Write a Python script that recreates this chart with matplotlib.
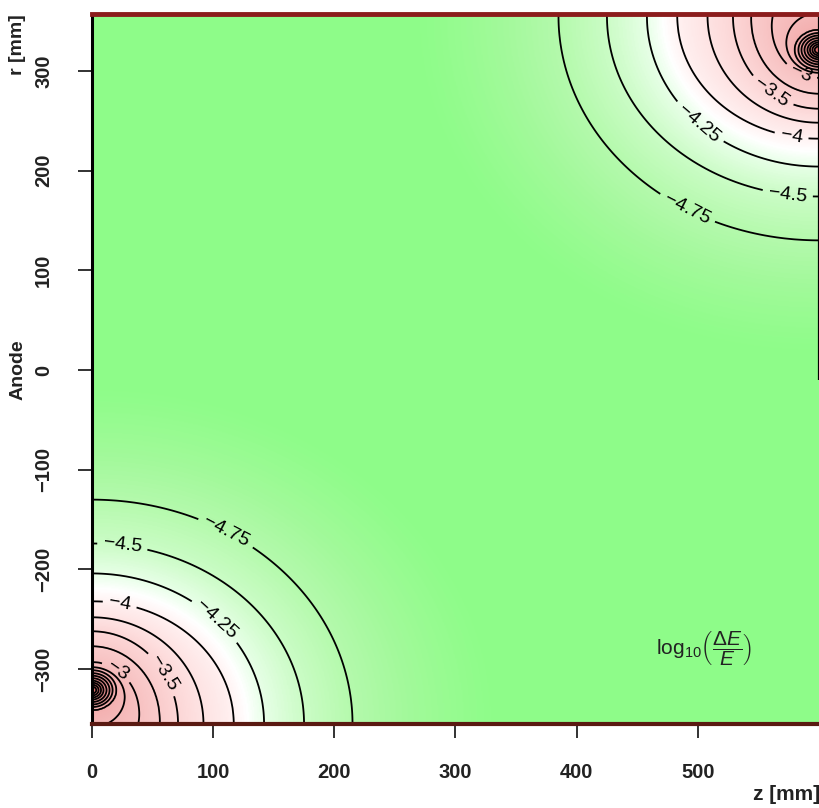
import numpy as np
import matplotlib
matplotlib.use("Agg")
import matplotlib.pyplot as plt
from matplotlib.colors import LinearSegmentedColormap

# Contour levels of log10(dE/E). Each level is a closed ellipse in the frame of
# the lower-left source: centre CENTER_R (mm, on the z = 0 wall), semi-axis
# SEMI_A along z and SEMI_B along r.
LEVELS = [-5.25, -5.0, -4.75, -4.5, -4.25, -4.0, -3.75, -3.5, -3.25, -3.0,
          -2.75, -2.5, -2.25, -2.0, -1.75, -1.5, -1.25, -1.0, -0.75]
CENTER_R = [-355, -355, -355, -355, -355, -355, -355, -355, -352, -345,
            -328, -321, -321, -321, -321, -321, -321, -321, -321]
SEMI_A = [330, 268, 215, 175, 142, 117, 92, 71, 56, 39,
          27, 20, 17, 14.5, 12, 9.5, 7.5, 5.5, 3.5]
SEMI_B = [335, 275, 225, 181, 151, 123, 107, 93, 75, 52,
          30, 20, 17, 14.5, 12, 9.5, 7.5, 5.5, 3.5]

Z_RANGE = (0.0, 600.0)
R_RANGE = (-355.0, 357.0)

X_TICKS = [0, 100, 200, 300, 400, 500]
Y_TICKS = [-300, -200, -100, 0, 100, 200, 300]

LABEL_LEVELS = [-4.75, -4.5, -4.25, -4.0, -3.5, -3.0]
LABEL_POS = [(108, -169), (25, -177), (100, -254), (23, -234), (54, -308), (23, -298),
             (493, 166), (574, 175), (502, 249), (577, 232), (563, 282), (587, 304)]

lev = np.array(LEVELS)
A = np.array(SEMI_A, dtype=float)[:, None, None]
B = np.array(SEMI_B, dtype=float)[:, None, None]
C = np.array(CENTER_R, dtype=float)[:, None, None]


def source_field(u, v):
    """Level of log10(dE/E) in the frame of the lower-left source
    (u: distance from the wall along z, v: r), interpolated between the
    nested contour ellipses."""
    lf = 0.5 * np.log((u[None] / A) ** 2 + ((v[None] - C) / B) ** 2 + 1e-9)
    n = len(lev)
    k = (lf < 0).sum(axis=0)
    k = np.clip(k, 1, n - 1)
    lo = np.take_along_axis(lf, (k - 1)[None], axis=0)[0]
    hi = np.take_along_axis(lf, k[None], axis=0)[0]
    den = np.where(np.abs(hi - lo) < 1e-9, 1e-9, hi - lo)
    t = (0 - lo) / den
    return lev[k - 1] + (lev[k] - lev[k - 1]) * t


z = np.linspace(Z_RANGE[0], Z_RANGE[1], 601)
r = np.linspace(R_RANGE[0], R_RANGE[1], 713)
ZZ, RR = np.meshgrid(z, r)

# lower-left source and its point-mirrored partner at the upper right
field = np.maximum(source_field(ZZ - Z_RANGE[0], RR),
                   source_field(Z_RANGE[1] - ZZ, -RR))
field = np.clip(field, -5.8, -0.5)

vmin, vmax = -6.0, -0.5
stops = [(-6.0, (0.56, 0.99, 0.54)),
         (-5.25, (0.56, 0.99, 0.54)),
         (-5.0, (0.63, 0.98, 0.60)),
         (-4.75, (0.71, 0.98, 0.68)),
         (-4.5, (0.80, 0.99, 0.78)),
         (-4.25, (0.91, 1.00, 0.91)),
         (-4.12, (1.00, 1.00, 1.00)),
         (-3.95, (1.00, 0.93, 0.93)),
         (-3.5, (0.99, 0.84, 0.84)),
         (-3.0, (0.97, 0.76, 0.76)),
         (-2.0, (0.94, 0.62, 0.62)),
         (-0.5, (0.86, 0.42, 0.42))]
cmap = LinearSegmentedColormap.from_list(
    "gain", [((v - vmin) / (vmax - vmin), c) for v, c in stops])

plt.rcParams["font.family"] = ["Liberation Sans", "DejaVu Sans"]
plt.rcParams["mathtext.fontset"] = "custom"
plt.rcParams["mathtext.rm"] = "Liberation Sans"
plt.rcParams["mathtext.it"] = "Liberation Sans:italic"

fig = plt.figure(figsize=(8.2, 8.08), dpi=100)
ax = fig.add_axes([92 / 820, 84 / 808, 727 / 820, 710 / 808])

ax.imshow(field, extent=(Z_RANGE[0], Z_RANGE[1], R_RANGE[0], R_RANGE[1]),
          origin="lower", cmap=cmap, vmin=vmin, vmax=vmax,
          interpolation="bilinear", aspect="auto")

plain_levels = [v for v in LEVELS if v >= -4.75 and v not in LABEL_LEVELS]
ax.contour(ZZ, RR, field, levels=plain_levels, colors="black",
           linewidths=1.3, linestyles="solid")
cs_lab = ax.contour(ZZ, RR, field, levels=LABEL_LEVELS, colors="black",
                    linewidths=1.3, linestyles="solid")


def fmt(v):
    return f"{v:g}".replace("-", "\u2212")


cs_lab.clabel(manual=LABEL_POS, inline=True, fontsize=14, fmt=fmt,
              inline_spacing=6)

ax.set_xlim(*Z_RANGE)
ax.set_ylim(*R_RANGE)

ax.set_xticks(X_TICKS)
ax.set_yticks(Y_TICKS)
ax.set_xticklabels([str(v) for v in X_TICKS], fontsize=14.5, fontweight="bold",
                   color="#222222")
ax.set_yticklabels([str(v).replace("-", "\u2212") for v in Y_TICKS],
                   fontsize=14.5, fontweight="bold", rotation=90, va="center",
                   color="#222222")
ax.tick_params(axis="both", direction="out", length=10, width=1.3,
               color="#222222", pad=18)

ax.spines["left"].set_linewidth(2.2)
ax.spines["left"].set_color("black")
ax.spines["top"].set_linewidth(3.5)
ax.spines["top"].set_color("#8b1c1c")
ax.spines["bottom"].set_linewidth(3.0)
ax.spines["bottom"].set_color("#5a1a12")
ax.spines["right"].set_visible(False)
ax.plot([Z_RANGE[1], Z_RANGE[1]], [-10, R_RANGE[1]], color="black", lw=1.6,
        clip_on=False, solid_capstyle="butt")

fig.text(18 / 820, 1 - 45 / 808, "r [mm]", rotation=90, fontsize=14,
         fontweight="bold", ha="center", va="center", color="#222222")
fig.text(18 / 820, 1 - 370 / 808, "Anode", rotation=90, fontsize=14,
         fontweight="bold", ha="center", va="center", color="#222222")
fig.text(787 / 820, 1 - 795 / 808, "z [mm]", fontsize=15,
         fontweight="bold", ha="center", va="center", color="#222222")

ax.text(505, -280, r"$\mathrm{log}_{10}\left(\dfrac{\Delta E}{E}\right)$",
        fontsize=15, ha="center", va="center", color="#222222")

fig.savefig("out.png", dpi=100)
